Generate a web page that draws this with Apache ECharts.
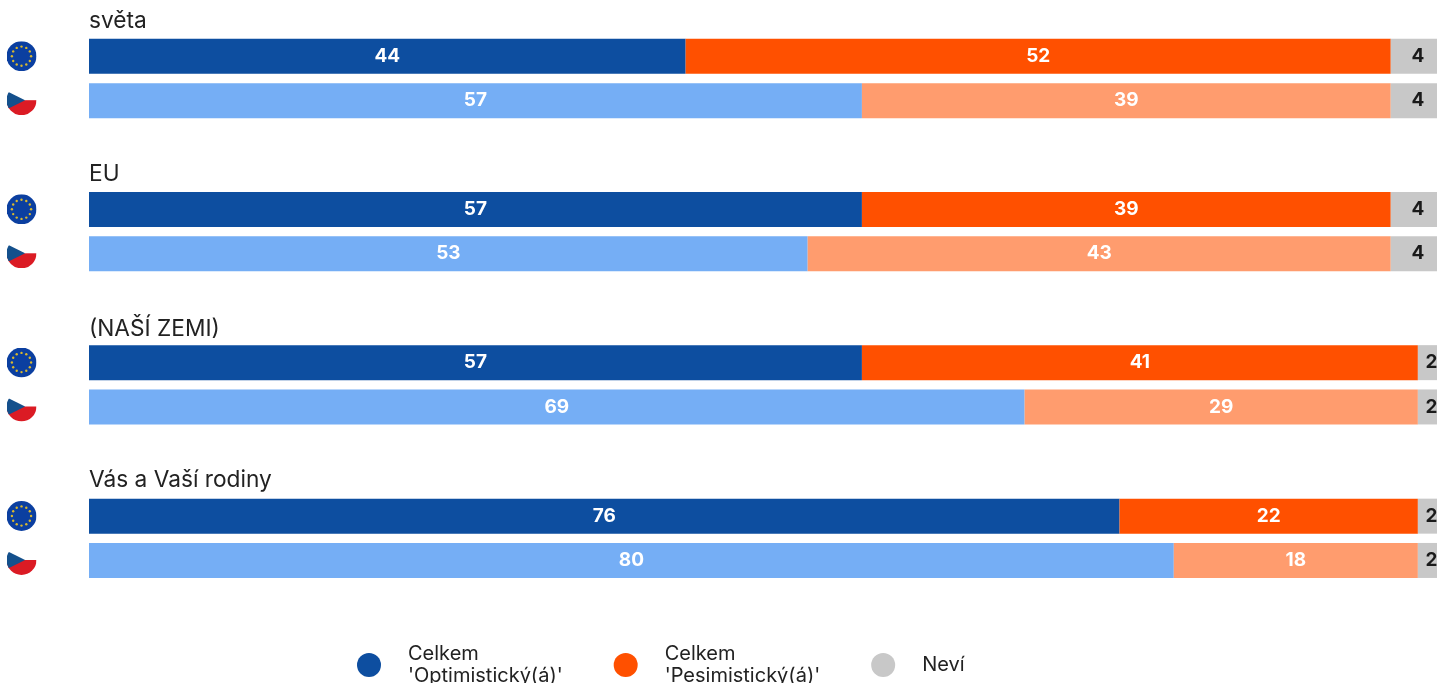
<!DOCTYPE html>
<html><head><meta charset="utf-8">
<style>html,body{margin:0;padding:0;background:#fff;overflow:hidden}#c{width:1437px;height:683px}</style>
<script src="https://cdn.jsdelivr.net/npm/echarts@6/dist/echarts.min.js"></script>
</head><body><div id="c"></div>
<script>
const groups = ['světa', 'EU', '(NAŠÍ ZEMI)', 'Vás a Vaší rodiny'];
const rows = ['EU', 'CZ'];
const optimistic = [[44, 57], [57, 53], [57, 69], [76, 80]];
const pessimistic = [[52, 39], [39, 43], [41, 29], [22, 18]];
const unknown = [[4, 4], [4, 4], [2, 2], [2, 2]];
const seriesNames = ["Celkem\n'Optimistický(á)'", "Celkem\n'Pesimistický(á)'", 'Neví'];
const darkColors = ['#0D4EA0', '#FF5000', '#C8C8C8'];
const lightColors = ['#75AEF5', '#FF9C6E', '#C8C8C8'];
const labelColors = ['#fff', '#fff', '#1a1a1a'];
const groupTops = [34.2, 187.3, 340.5, 494];
const titleTops = [10, 163, 318, 469];

const FONT = 'Inter, "Noto Sans", sans-serif';
const values = [optimistic, pessimistic, unknown];

function euFlag() {
  let stars = '';
  for (let i = 0; i < 12; i++) {
    const a = i * Math.PI / 6;
    stars += `<circle cx="${(50 + 32 * Math.cos(a)).toFixed(1)}" cy="${(50 + 32 * Math.sin(a)).toFixed(1)}" r="4" fill="#D9B82E"/>`;
  }
  return 'data:image/svg+xml;utf8,' + encodeURIComponent(
    `<svg xmlns="http://www.w3.org/2000/svg" width="100" height="100" viewBox="0 0 100 100"><circle cx="50" cy="50" r="50" fill="#0B3FA0"/>${stars}</svg>`);
}
function czFlag() {
  return 'data:image/svg+xml;utf8,' + encodeURIComponent(
    `<svg xmlns="http://www.w3.org/2000/svg" width="100" height="100" viewBox="0 0 100 100"><defs><clipPath id="k"><circle cx="50" cy="50" r="50"/></clipPath></defs><g clip-path="url(#k)"><rect width="100" height="50" fill="#fff"/><rect y="50" width="100" height="50" fill="#DB1B24"/><path d="M0 22 L0 78 L10 76 L62 50 L10 24 Z" fill="#14508C"/></g></svg>`);
}

const grids = [], xAxes = [], yAxes = [], series = [], titles = [], graphics = [];
groups.forEach((g, gi) => {
  grids.push({ left: 89, top: groupTops[gi], width: 1356, height: 88.6, outerBoundsMode: 'none' });
  xAxes.push({ gridIndex: gi, type: 'value', min: 0, max: 100, show: false });
  yAxes.push({ gridIndex: gi, type: 'category', inverse: true, data: rows, show: false });
  titles.push({ text: g, left: 89, top: titleTops[gi], padding: 0,
    textStyle: { fontFamily: FONT, fontSize: 22.7, fontWeight: 400, color: '#222' } });
  seriesNames.forEach((name, si) => {
    series.push({
      name, type: 'bar', stack: 'g' + gi, xAxisIndex: gi, yAxisIndex: gi,
      barWidth: 35, animation: false, silent: true,
      itemStyle: { color: darkColors[si] },
      label: { show: true, position: 'inside', fontFamily: FONT, fontSize: 19, fontWeight: 700, color: labelColors[si] },
      data: values[si][gi].map((v, ri) => ({ value: v, itemStyle: { color: ri === 0 ? darkColors[si] : lightColors[si] } }))
    });
  });
  graphics.push({ type: 'image', left: 6.5, top: groupTops[gi] + 7, style: { image: euFlag(), width: 30, height: 30 }, silent: true });
  graphics.push({ type: 'image', left: 6.5, top: groupTops[gi] + 51, style: { image: czFlag(), width: 30, height: 30 }, silent: true });
});

const chart = echarts.init(document.getElementById('c'), null, { renderer: 'canvas' });
chart.setOption({
  animation: false,
  backgroundColor: '#fff',
  title: titles,
  grid: grids, xAxis: xAxes, yAxis: yAxes, series,
  graphic: graphics,
  legend: {
    left: 352, top: 638, itemWidth: 24, itemHeight: 24, itemGap: 51, icon: 'circle',
    selectedMode: false, data: seriesNames,
    formatter: n => n.split('\n').map(l => `{t|${l}}`).join('\n'),
    textStyle: { fontFamily: FONT, fontSize: 20, lineHeight: 22, color: '#222',
      rich: { t: { fontFamily: FONT, fontSize: 20, lineHeight: 22, color: '#222', padding: [0, 0, 0, 22] } } }
  }
});
</script></body></html>
